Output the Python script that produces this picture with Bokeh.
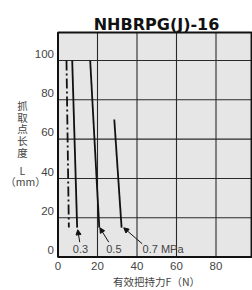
from bokeh.plotting import figure
from bokeh.models import Range1d, Arrow, NormalHead
from bokeh.core.properties import value
from bokeh.embed import file_html
from bokeh.resources import INLINE

# ---- data ----
title_text = "NHBRPG(J)-16"
pressures = ["0.3", "0.5", "0.7 MPa"]
force_03 = [7.2, 9.7]
length_03 = [100, 15]
force_05 = [16.3, 20.9]
length_05 = [100, 15]
force_07 = [28.5, 32.2]
length_07 = [70, 15]
limit_force = [4.3, 5.5]
limit_length = [100, 15]
x_ticks = [0, 20, 40, 60, 80]
y_ticks = [0, 20, 40, 60, 80, 100]
y_label_chars = ["抓", "取", "点", "长", "度", "L", "（mm）"]
x_label = "有效把持力F（N）"
# label / arrow anchors (data units)
label_x = [11.4, 28.3, 42.8]
label_y = [4.2, 4.2, 4.2]
arrow_tail_x = [11.0, 25.7, 42.6]
arrow_tail_y = [7.6, 7.6, 6.8]
arrow_head_x = [10.0, 21.2, 33.3]
arrow_head_y = [13.9, 14.9, 14.9]

# plot-area extent in data units and surrounding canvas extent
X_MAX, Y_MAX = 98, 114.2
CANVAS_X = (-29.11, 98.48)
CANVAS_Y = (-16.99, 130.52)

p = figure(width=252, height=290, output_backend="svg", toolbar_location=None,
           x_range=Range1d(*CANVAS_X), y_range=Range1d(*CANVAS_Y),
           x_axis_location=None, y_axis_location=None, min_border=0)
p.grid.visible = False
p.outline_line_color = None
p.background_fill_color = "white"
p.border_fill_color = "white"

# plot area
p.quad(left=[0], right=[X_MAX], bottom=[0], top=[Y_MAX], fill_color="#e6e6e6", line_color=None)
# grid lines at tick values
gx = [t for t in x_ticks if t > 0]
gy = [t for t in y_ticks if t > 0]
p.segment(x0=gx, y0=[0] * len(gx), x1=gx, y1=[Y_MAX] * len(gx), line_color="#2a2a2a", line_width=1.1)
p.segment(x0=[0] * len(gy), y0=gy, x1=[X_MAX] * len(gy), y1=gy, line_color="#2a2a2a", line_width=1.1)
p.quad(left=[0], right=[X_MAX], bottom=[0], top=[Y_MAX], fill_color=None,
       line_color="#111111", line_width=2)

# tick labels
p.text(x=x_ticks, y=[-4.78] * len(x_ticks), text=[str(t) for t in x_ticks],
       text_align="center", text_baseline="middle", text_font=value("Liberation Sans"),
       text_font_size="11.5px", text_color="#444444")
p.text(x=[-2.03] * len(y_ticks), y=[t + 3.46 for t in y_ticks], text=[str(t) for t in y_ticks],
       text_align="right", text_baseline="middle", text_font=value("Liberation Sans"),
       text_font_size="11.5px", text_color="#444444")

# axis titles
p.text(x=[49.9], y=[-12.5], text=[x_label], text_align="center", text_baseline="middle",
       text_font=value("Noto Sans CJK SC"), text_font_size="10.5px", text_color="#444444")
char_y = [77.1, 71.2, 65.4, 59.3, 53.4, 44.3, 38.2]
char_x = [-18.0, -18.0, -18.0, -18.0, -18.0, -18.0, -16.5]
p.text(x=char_x, y=char_y, text=y_label_chars, text_align="center", text_baseline="middle",
       text_font=value("Noto Sans CJK SC"), text_font_size="10.5px", text_color="#444444")

# chart title
p.text(x=[49.9], y=[118.06], text=[title_text], text_align="center", text_baseline="alphabetic",
       text_font=value("DejaVu Sans"), text_font_style="bold", text_font_size="16px",
       text_color="#111111")

# data lines
p.line(limit_force, limit_length, line_color="#111111", line_width=1.8, line_dash="10 3 2 3")
for fx, ly in [(force_03, length_03), (force_05, length_05), (force_07, length_07)]:
    p.line(fx, ly, line_color="#111111", line_width=1.8)

# arrows and pressure labels
for i in range(3):
    p.add_layout(Arrow(end=NormalHead(size=5, fill_color="#111111", line_color="#111111", line_width=1),
                       x_start=arrow_tail_x[i], y_start=arrow_tail_y[i],
                       x_end=arrow_head_x[i], y_end=arrow_head_y[i],
                       line_color="#111111", line_width=1))
p.text(x=label_x[:2], y=label_y[:2], text=pressures[:2], text_align="center", text_baseline="middle",
       text_font=value("Liberation Sans"), text_font_size="11px", text_color="#444444")
p.text(x=label_x[2:], y=label_y[2:], text=pressures[2:], text_align="left", text_baseline="middle",
       text_font=value("Liberation Sans"), text_font_size="11px", text_color="#444444")

open("out.html", "w").write(file_html(p, INLINE))
